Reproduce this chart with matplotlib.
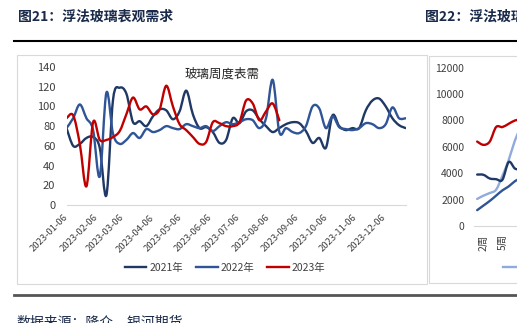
import numpy as np
import pandas as pd
import matplotlib
matplotlib.use('Agg')
import matplotlib.pyplot as plt
import matplotlib.dates as mdates
from matplotlib.path import Path
from matplotlib.patches import PathPatch, Rectangle
from matplotlib.lines import Line2D

plt.rcParams['font.family'] = ['Noto Sans CJK SC', 'DejaVu Sans']

# 图21 玻璃周度表需（2023年日期轴，按周）
weeks = pd.date_range('2023-01-06', periods=52, freq='7D')
month_ticks = pd.date_range('2023-01-06', periods=12, freq=pd.DateOffset(months=1))
demand_2021 = [78, 60, 62, 68, 69, 58, 10, 107, 119, 113, 84, 85, 80, 90, 97, 96, 87, 95,
               116, 92, 78, 79, 74, 63, 66, 88, 83, 95, 96, 87, 80, 74, 78, 82, 84, 83,
               75, 63, 68, 58, 91, 80, 76, 78, 78, 96, 106, 108, 100, 88, 81, 78]
demand_2022 = [78, 88, 102, 88, 76, 29, 114, 72, 62, 66, 73, 68, 77, 74, 76, 80, 78, 77,
               82, 80, 78, 80, 75, 80, 84, 82, 84, 87, 86, 78, 88, 127, 74, 78, 74, 73,
               80, 100, 98, 78, 90, 79, 77, 76, 78, 83, 82, 78, 82, 99, 88, 88]
demand_2023 = [88, 91, 62, 19, 84, 66, 66, 69, 75, 92, 109, 97, 100, 92, 97, 121, 100, 82,
               76, 69, 62, 64, 84, 83, 80, 80, 84, 106, 103, 86, 95, 103, 86]

# 图22 右侧图（只露出开头几周）
inv_weeks = [1, 2, 3, 4, 5, 6, 7, 8]
inv_2020 = [2050, 2300, 2500, 2750, 3800, 5000, 6500, 7600]
inv_2021 = [3900, 3880, 3600, 3550, 3500, 4850, 4350, 4300]
inv_2022 = [1200, 1550, 1900, 2300, 2700, 3000, 3400, 3650]
inv_2023 = [6400, 6150, 6400, 7500, 7500, 7750, 8000, 8100]
inv_tick_weeks = [2, 5]

C21, C22, C23, C20 = '#1F3864', '#2F5597', '#C00000', '#8FAADC'
TXT = '#404040'
W, H = 517, 323


def box(x0, y0, x1, y1):
    return [x0 / W, 1 - y1 / H, (x1 - x0) / W, (y1 - y0) / H]


def smooth_path(x, y):
    # excel 风格的平滑线：三次贝塞尔，控制点取相邻点差的 1/6
    x = np.asarray(x, float)
    y = np.asarray(y, float)
    px = np.concatenate([[x[0]], x, [x[-1]]])
    py = np.concatenate([[y[0]], y, [y[-1]]])
    verts = [(x[0], y[0])]
    codes = [Path.MOVETO]
    for i in range(1, len(x)):
        c1 = (px[i] + (px[i + 1] - px[i - 1]) / 6, py[i] + (py[i + 1] - py[i - 1]) / 6)
        c2 = (px[i + 1] - (px[i + 2] - px[i]) / 6, py[i + 1] - (py[i + 2] - py[i]) / 6)
        verts += [c1, c2, (px[i + 1], py[i + 1])]
        codes += [Path.CURVE4] * 3
    return Path(verts, codes)


def draw_line(ax, x, y, color):
    ax.add_patch(PathPatch(smooth_path(x, y), fill=False, edgecolor=color, lw=1.7,
                           capstyle='round', joinstyle='round'))


fig = plt.figure(figsize=(W / 100, H / 100), dpi=100)

# 标题、分隔线、边框
fig.text(18 / W, 1 - 17 / H, '图21：浮法玻璃表观需求', fontsize=10, fontweight='bold',
         color='#1A2A4A', va='center', ha='left')
fig.text(425 / W, 1 - 17 / H, '图22：浮法玻璃库存', fontsize=10, fontweight='bold',
         color='#1A2A4A', va='center', ha='left')
fig.add_artist(Line2D([14 / W, 1], [1 - 41 / H] * 2, color='black', lw=1.5))
fig.add_artist(Line2D([14 / W, 1], [1 - 295 / H] * 2, color='#555555', lw=2))
fig.text(16 / W, 1 - 315 / H, '数据来源：隆众，银河期货', fontsize=10, color='#1A2A4A',
         va='top', ha='left')
fig.add_artist(Rectangle((17 / W, 1 - 284 / H), (427 - 17) / W, (284 - 55) / H,
                         transform=fig.transFigure, fill=False, edgecolor='#D9D9D9', lw=0.8))
fig.add_artist(Rectangle((429 / W, 1 - 283 / H), 200 / W, (283 - 56) / H,
                         transform=fig.transFigure, fill=False, edgecolor='#D9D9D9', lw=0.8))

# 左图
ax = fig.add_axes(box(66.5, 67, 405.7, 205))
xd = mdates.date2num(weeks)
draw_line(ax, xd, demand_2021, C21)
draw_line(ax, xd, demand_2022, C22)
draw_line(ax, xd[:len(demand_2023)], demand_2023, C23)
ax.set_xlim(xd[0], xd[-1])
ax.set_ylim(0, 140)
ax.set_yticks(range(0, 141, 20))
ax.set_xticks(mdates.date2num(month_ticks))
ax.set_xticklabels([d.strftime('%Y-%m-%d') for d in month_ticks], rotation=45,
                   ha='right', va='center', rotation_mode='anchor', fontsize=6.8)
ax.tick_params(axis='y', labelsize=8, pad=8)
ax.tick_params(axis='x', pad=8)
ax.tick_params(length=0, colors=TXT)
for s in ['top', 'right', 'left']:
    ax.spines[s].set_visible(False)
ax.spines['bottom'].set_color('#D9D9D9')
ax.patch.set_alpha(0)
ax.text(0.46, 0.95, '玻璃周度表需', transform=ax.transAxes, fontsize=9, color='#262626',
        ha='center', va='center')

handles = [Line2D([], [], color=c, lw=1.7) for c in (C21, C22, C23)]
fig.legend(handles, ['2021年', '2022年', '2023年'], loc='center', ncol=3,
           bbox_to_anchor=(225 / W, 1 - 268 / H), frameon=False, fontsize=7.5,
           handlelength=2.1, handletextpad=0.3, columnspacing=1.2, labelcolor=TXT)

# 右图
ax2 = fig.add_axes(box(474, 67.7, 474 + 328, 226))
draw_line(ax2, inv_weeks, inv_2020, C20)
draw_line(ax2, inv_weeks, inv_2021, C21)
draw_line(ax2, inv_weeks, inv_2022, C22)
draw_line(ax2, inv_weeks, inv_2023, C23)
ax2.set_xlim(0.5, 52.5)
ax2.set_ylim(0, 12000)
ax2.set_yticks(range(0, 12001, 2000))
ax2.set_xticks(inv_tick_weeks)
ax2.set_xticklabels([f'{w}周' for w in inv_tick_weeks], rotation=90, fontsize=7.5)
ax2.tick_params(axis='y', labelsize=7.5, pad=7)
ax2.tick_params(axis='x', pad=6)
ax2.tick_params(length=0, colors=TXT)
for s in ['top', 'right', 'left']:
    ax2.spines[s].set_visible(False)
ax2.spines['bottom'].set_color('#D9D9D9')
ax2.patch.set_alpha(0)
h2 = [Line2D([], [], color=C20, lw=1.7)]
fig.legend(h2, ['2020年'], loc='center left',
           bbox_to_anchor=(498 / W, 1 - 268 / H), frameon=False, fontsize=7.5, borderpad=0,
           handlelength=2.1, handletextpad=0.3, labelcolor=TXT)

fig.savefig('out.png', dpi=100)
